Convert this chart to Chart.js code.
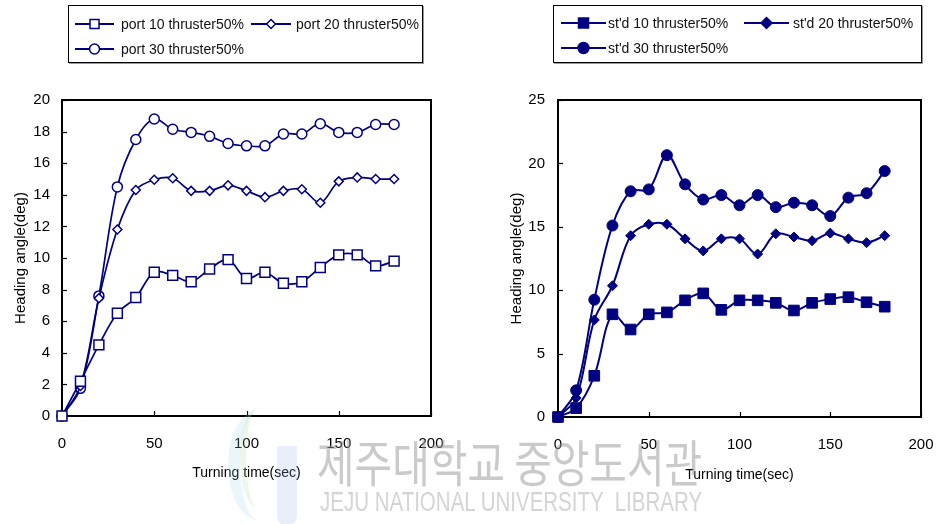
<!DOCTYPE html>
<html>
<head>
<meta charset="utf-8">
<script src="https://cdn.jsdelivr.net/npm/chart.js@4.4.0/dist/chart.umd.min.js"></script>
<style>
  html, body { margin: 0; padding: 0; background: #fff; }
  #wrap { position: relative; width: 939px; height: 524px; overflow: hidden; font-family: "Liberation Sans", Arial, sans-serif; }
  .cv { position: absolute; top: 0; }
  .legend { position: absolute; top: 5px; height: 58px; border: 1px solid #000; box-sizing: border-box; background: #fff; box-shadow: 1px 1px 0 #999; }
  .item { position: absolute; height: 14px; font-size: 14px; line-height: 14px; color: #111; white-space: nowrap; }
  .item svg { position: absolute; top: -1px; }
  .item span { position: absolute; top: 0; }
  .wm { position: absolute; color: rgba(150,150,150,0.5); white-space: nowrap; transform-origin: 0 0; pointer-events: none; }
  #wmKo { left: 317px; top: 432px; font-family: "Noto Sans CJK KR", sans-serif; font-size: 50px; line-height: 56px; }
  #wmEn { left: 320px; top: 487px; font-family: "Liberation Sans", sans-serif; font-size: 27px; line-height: 30px; color: rgba(170,170,170,0.5); }
  .logo { position: absolute; pointer-events: none; }
</style>
</head>
<body>
<div id="wrap">
  <canvas id="leftChart" class="cv" style="left:0" width="470" height="524"></canvas>
  <canvas id="rightChart" class="cv" style="left:470px" width="469" height="524"></canvas>
  <div id="legendLeft" class="legend" style="left:68px; width:355px"></div>
  <div id="legendRight" class="legend" style="left:553px; width:369px"></div>
  <div class="logo" style="left:277px; top:446px; width:20px; height:80px; background:rgba(150,180,225,0.22); border-radius:0 0 10px 10px"></div>
  <div class="logo" style="left:228px; top:410px; width:50px; height:110px; border-left:12px solid rgba(150,210,230,0.2); border-radius:50% 0 0 50%"></div>
  <div class="logo" style="left:240px; top:408px; width:30px; height:100px; border-left:6px solid rgba(170,210,150,0.2); border-radius:50% 0 0 50%"></div>
  <div id="wmKo" class="wm">제주대학교 중앙도서관</div>
  <div id="wmEn" class="wm">JEJU NATIONAL UNIVERSITY &nbsp;LIBRARY</div>
</div>
<script>
// --- DATI ---
const times = [0, 10, 20, 30, 40, 50, 60, 70, 80, 90, 100, 110, 120, 130, 140, 150, 160, 170, 180];

const portLabels = ["port 10 thruster50%", "port 20 thruster50%", "port 30 thruster50%"];
const port10 = [0, 2.2, 4.5, 6.5, 7.5, 9.1, 8.9, 8.5, 9.3, 9.9, 8.7, 9.1, 8.4, 8.5, 9.4, 10.2, 10.2, 9.5, 9.8];
const port20 = [0, 1.9, 7.45, 11.8, 14.3, 14.95, 15.05, 14.25, 14.25, 14.6, 14.25, 13.85, 14.25, 14.35, 13.5, 14.85, 15.1, 15.0, 15.0];
const port30 = [0, 1.75, 7.6, 14.5, 17.5, 18.8, 18.15, 17.95, 17.7, 17.25, 17.1, 17.1, 17.85, 17.85, 18.5, 17.95, 17.95, 18.45, 18.45];

const stdLabels = ["st'd 10 thruster50%", "st'd 20 thruster50%", "st'd 30 thruster50%"];
const std10 = [0, 0.7, 3.25, 8.1, 6.9, 8.1, 8.25, 9.2, 9.75, 8.45, 9.2, 9.2, 9.0, 8.4, 9.0, 9.3, 9.45, 9.05, 8.7];
const std20 = [0, 1.5, 7.65, 10.35, 14.3, 15.2, 15.2, 14.05, 13.1, 14.05, 14.05, 12.85, 14.45, 14.2, 13.9, 14.5, 14.05, 13.75, 14.3];
const std30 = [0, 2.1, 9.25, 15.1, 17.8, 17.95, 20.65, 18.35, 17.15, 17.5, 16.7, 17.5, 16.55, 16.9, 16.7, 15.85, 17.3, 17.65, 19.4];

const xTitle = "Turning time(sec)";
const yTitle = "Heading angle(deg)";

const navy = "#000080";

Chart.defaults.font.family = "'Liberation Sans', Arial, sans-serif";
Chart.defaults.color = "#000";

const toPoints = arr => arr.map((v, i) => ({ x: times[i], y: v }));

// cornice nera + tacche verso l'interno
const framePlugin = {
    id: "frame",
    beforeDatasetsDraw(chart) {
        const { ctx, chartArea: a, scales } = chart;
        ctx.save();
        ctx.strokeStyle = "#000";
        ctx.lineWidth = 1.2;
        scales.y.ticks.forEach(t => {
            const py = Math.round(scales.y.getPixelForValue(t.value)) + 0.5;
            ctx.beginPath();
            ctx.moveTo(a.left, py);
            ctx.lineTo(a.left + 5, py);
            ctx.stroke();
        });
        scales.x.ticks.forEach(t => {
            const px = Math.round(scales.x.getPixelForValue(t.value)) + 0.5;
            ctx.beginPath();
            ctx.moveTo(px, a.bottom);
            ctx.lineTo(px, a.bottom - 5);
            ctx.stroke();
        });
        ctx.lineWidth = 2;
        ctx.strokeRect(a.left, a.top, a.right - a.left, a.bottom - a.top);
        ctx.restore();
    }
};

function makeDataset(label, values, style, radius, filled) {
    return {
        label,
        data: toPoints(values),
        borderColor: navy,
        borderWidth: filled ? 2 : 1.7,
        tension: 0.35,
        pointStyle: style,
        pointRadius: radius,
        pointHoverRadius: radius,
        pointBorderColor: navy,
        pointBorderWidth: filled ? 1 : 1.5,
        pointBackgroundColor: filled ? navy : "#fff",
        clip: false
    };
}

function makeChart(id, datasets, cfg) {
    return new Chart(document.getElementById(id), {
        type: "line",
        data: { datasets },
        options: {
            responsive: false,
            animation: false,
            events: [],
            layout: { padding: { top: 100, right: cfg.padRight, left: 0, bottom: 0 } },
            plugins: { legend: { display: false }, tooltip: { enabled: false } },
            scales: {
                x: {
                    type: "linear",
                    min: 0, max: 200,
                    ticks: { stepSize: 50, padding: 19, font: { size: 15 }, maxRotation: 0 },
                    grid: { display: false, drawTicks: false },
                    border: { display: false },
                    title: { display: true, text: xTitle, font: { size: 14 }, padding: { top: 0, bottom: cfg.xTitlePad } },
                    afterFit: s => { s.height = cfg.xHeight; s.paddingLeft = 0; s.paddingRight = 0; }
                },
                y: {
                    min: 0, max: cfg.yMax,
                    ticks: { stepSize: cfg.yStep, padding: cfg.yTickPad, font: { size: 15 } },
                    grid: { display: false, drawTicks: false },
                    border: { display: false },
                    title: { display: true, text: yTitle, font: { size: 15 }, padding: { top: cfg.yTitlePad, bottom: 0 } },
                    afterFit: s => { s.width = cfg.yWidth; s.paddingTop = 0; s.paddingBottom = 0; }
                }
            }
        },
        plugins: [framePlugin]
    });
}

makeChart("leftChart", [
    makeDataset(portLabels[0], port10, "rect", 7, false),
    makeDataset(portLabels[1], port20, "rectRot", 4.5, false),
    makeDataset(portLabels[2], port30, "circle", 5, false)
], { padRight: 39, xHeight: 108, yWidth: 62, yMax: 20, yStep: 2, yTickPad: 12, xTitlePad: 42.6, yTitlePad: 12 });

makeChart("rightChart", [
    makeDataset(stdLabels[0], std10, "rect", 7.5, true),
    makeDataset(stdLabels[1], std20, "rectRot", 5, true),
    makeDataset(stdLabels[2], std30, "circle", 5.5, true)
], { padRight: 18, xHeight: 107, yWidth: 88, yMax: 25, yStep: 5, yTickPad: 13, xTitlePad: 40.6, yTitlePad: 38 });

// --- LEGENDE ---
function markerSvg(kind, filled, w) {
    const c = w / 2;
    const fill = filled ? navy : "#fff";
    let m;
    if (kind === "rect") {
        const s = filled ? 10 : 9;
        m = `<rect x="${c - s / 2}" y="${8 - s / 2}" width="${s}" height="${s}" fill="${fill}" stroke="${navy}" stroke-width="1.5"/>`;
    } else if (kind === "rectRot") {
        const r = filled ? 5.5 : 4.5;
        m = `<polygon points="${c},${8 - r} ${c + r},8 ${c},${8 + r} ${c - r},8" fill="${fill}" stroke="${navy}" stroke-width="1.5"/>`;
    } else {
        const r = filled ? 5.5 : 5;
        m = `<circle cx="${c}" cy="8" r="${r}" fill="${fill}" stroke="${navy}" stroke-width="1.5"/>`;
    }
    return `<svg width="${w}" height="16" style="top:-1px"><line x1="0" y1="8" x2="${w}" y2="8" stroke="${navy}" stroke-width="2"/>${m}</svg>`;
}

function buildLegend(boxId, labels, filled, layout) {
    const box = document.getElementById(boxId);
    const kinds = ["rect", "rectRot", "circle"];
    labels.forEach((lab, i) => {
        const p = layout[i];
        const item = document.createElement("div");
        item.className = "item";
        item.style.left = p.x + "px";
        item.style.top = (p.cy - 7) + "px";
        item.innerHTML = markerSvg(kinds[i], filled, p.w) + `<span style="left:${p.t}px">${lab}</span>`;
        box.appendChild(item);
    });
}

buildLegend("legendLeft", portLabels, false, [
    { x: 6, cy: 17.5, w: 39, t: 46 },
    { x: 182, cy: 17.5, w: 40, t: 45 },
    { x: 6, cy: 43, w: 39, t: 46 }
]);
buildLegend("legendRight", stdLabels, true, [
    { x: 7, cy: 16.5, w: 45, t: 47 },
    { x: 190, cy: 16.5, w: 45, t: 49 },
    { x: 7, cy: 41.5, w: 45, t: 47 }
]);

// watermark: adatta la larghezza
function fitWidth(id, target) {
    const el = document.getElementById(id);
    const w = el.scrollWidth;
    if (w > 0) el.style.transform = `scaleX(${target / w})`;
}
fitWidth("wmKo", 385);
fitWidth("wmEn", 382);
</script>
</body>
</html>
